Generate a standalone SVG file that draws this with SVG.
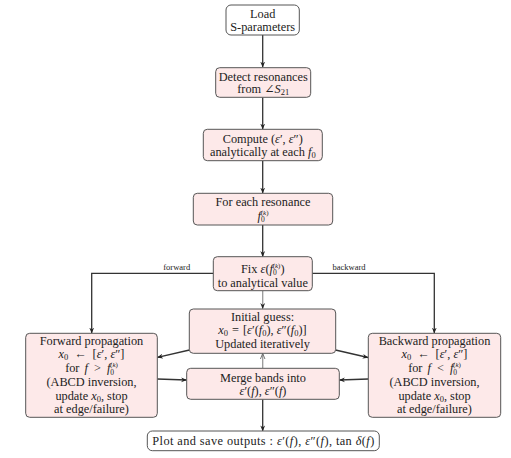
<svg xmlns="http://www.w3.org/2000/svg" width="511" height="458" viewBox="0 0 511 458">
<defs>
<marker id="ah" viewBox="0 0 10 10" refX="9" refY="5" markerWidth="6" markerHeight="6" markerUnits="userSpaceOnUse" orient="auto">
<path d="M0,1 L10,5 L0,9 L3,5 Z" fill="#222"/>
</marker>
<marker id="ahg" viewBox="0 0 10 10" refX="9" refY="5" markerWidth="6" markerHeight="6" markerUnits="userSpaceOnUse" orient="auto">
<path d="M0,1 L10,5 L0,9" fill="none" stroke="#666" stroke-width="1.5"/>
</marker>
<style>
.box{fill:#fde9e9;stroke:#555;stroke-width:1}
.wbox{fill:#fff;stroke:#555;stroke-width:1}
text{font-family:"Liberation Serif","DejaVu Serif",serif;font-size:12.3px;fill:#222;text-anchor:middle}
.lbl{font-size:8.5px}
.i{font-style:italic}
.sm{font-size:8.5px}
.sb{font-size:7.5px}
.sp{font-size:7px}
.c{fill:none;stroke:#333;stroke-width:1.3}
.g{fill:none;stroke:#999;stroke-width:1.3}
</style>
</defs>
<g id="connectors">
<path class="c" d="M262.7,35 V67" marker-end="url(#ah)"/>
<path class="c" d="M262.7,97.5 V129" marker-end="url(#ah)"/>
<path class="c" d="M262.7,161 V193" marker-end="url(#ah)"/>
<path class="c" d="M262.7,225 V256.5" marker-end="url(#ah)"/>
<path class="c" d="M213.3,273.3 H91.7 V333" marker-end="url(#ah)"/>
<path class="c" d="M312.3,273.3 H434.3 V333" marker-end="url(#ah)"/>
<path class="g" d="M262.7,291 V308.5" marker-end="url(#ah)"/>
<path class="g" d="M262.7,368 V354" marker-end="url(#ahg)"/>
<path class="c" d="M189.5,350 L157.5,357.3" marker-end="url(#ah)"/>
<path class="c" d="M335.5,350 L368,357.5" marker-end="url(#ah)"/>
<path class="c" d="M157.3,379 L186.5,380" marker-end="url(#ah)"/>
<path class="c" d="M368.3,379 L339.5,380" marker-end="url(#ah)"/>
<path class="c" d="M262.7,399.5 V430.8" marker-end="url(#ah)"/>
<text class="lbl" x="176.7" y="269.5">forward</text>
<text class="lbl" x="349" y="269.5">backward</text>
</g>
<g id="load">
<rect class="wbox" x="226" y="5" width="73.3" height="30" rx="5"/>
<text x="262.7" y="17.5">Load</text>
<text x="262.7" y="30.5">S-parameters</text>
</g>
<g id="detect">
<rect class="box" x="215.7" y="67.7" width="95" height="29.6" rx="4"/>
<text x="263.2" y="80.5">Detect resonances</text>
<text x="263.2" y="93">from ∠<tspan class="i">S</tspan><tspan class="sm" dy="2">21</tspan></text>
</g>
<g id="compute">
<rect class="box" x="203.3" y="129.3" width="119" height="31.4" rx="4"/>
<text x="262.8" y="142.5">Compute (<tspan class="i">ε</tspan>′, <tspan class="i">ε</tspan>″)</text>
<text x="262.8" y="155.5">analytically at each <tspan class="i">f</tspan><tspan class="sm" dy="2">0</tspan></text>
</g>
<g id="foreach">
<rect class="box" x="193.3" y="193.3" width="139.4" height="31.7" rx="4"/>
<text x="263" y="205.5">For each resonance</text>
<text x="263" y="219.5"><tspan class="i">f</tspan><tspan class="sb" dy="2.5">0</tspan><tspan class="sp" dx="-4" dy="-7.5">(<tspan class="i">k</tspan>)</tspan></text>
</g>
<g id="fix">
<rect class="box" x="213.3" y="256.7" width="99" height="34" rx="4"/>
<text x="262.8" y="272.5">Fix <tspan class="i">ε</tspan>(<tspan class="i">f</tspan><tspan class="sb" dy="2.5">0</tspan><tspan class="sp" dx="-4" dy="-7.5">(<tspan class="i">k</tspan>)</tspan><tspan dy="5">)</tspan></text>
<text x="262.8" y="287">to analytical value</text>
</g>
<g id="initial">
<rect class="box" x="189.3" y="309" width="146.4" height="44.3" rx="4"/>
<text x="262.5" y="321">Initial guess:</text>
<text x="262.5" y="334"><tspan class="i">x</tspan><tspan class="sm" dy="2">0</tspan><tspan dy="-2" dx="4">=</tspan><tspan dx="4">[</tspan><tspan class="i">ε</tspan>′(<tspan class="i">f</tspan><tspan class="sm" dy="2">0</tspan><tspan dy="-2">), </tspan><tspan class="i">ε</tspan>″(<tspan class="i">f</tspan><tspan class="sm" dy="2">0</tspan><tspan dy="-2">)]</tspan></text>
<text x="262.5" y="348.3">Updated iteratively</text>
</g>
<g id="forward">
<rect class="box" x="25.7" y="333.3" width="131.6" height="84" rx="4"/>
<text x="91.5" y="345">Forward propagation</text>
<text x="91.5" y="358"><tspan class="i">x</tspan><tspan class="sm" dy="2">0</tspan><tspan dy="-2" dx="6">←</tspan><tspan dx="6">[</tspan><tspan class="i">ε</tspan>′, <tspan class="i">ε</tspan>″]</text>
<text x="91.5" y="372"><tspan>for </tspan><tspan class="i" dx="2">f</tspan><tspan dx="6">&gt;</tspan><tspan class="i" dx="6">f</tspan><tspan class="sb" dy="2.5">0</tspan><tspan class="sp" dx="-4" dy="-7.5">(<tspan class="i">k</tspan>)</tspan></text>
<text x="91.5" y="386">(ABCD inversion,</text>
<text x="91.5" y="399.5">update <tspan class="i">x</tspan><tspan class="sm" dy="2">0</tspan><tspan dy="-2">, stop</tspan></text>
<text x="91.5" y="413">at edge/failure)</text>
</g>
<g id="backward">
<rect class="box" x="368.3" y="333.3" width="132.4" height="84" rx="4"/>
<text x="434.5" y="345">Backward propagation</text>
<text x="434.5" y="358"><tspan class="i">x</tspan><tspan class="sm" dy="2">0</tspan><tspan dy="-2" dx="6">←</tspan><tspan dx="6">[</tspan><tspan class="i">ε</tspan>′, <tspan class="i">ε</tspan>″]</text>
<text x="434.5" y="372"><tspan>for </tspan><tspan class="i" dx="2">f</tspan><tspan dx="6">&lt;</tspan><tspan class="i" dx="6">f</tspan><tspan class="sb" dy="2.5">0</tspan><tspan class="sp" dx="-4" dy="-7.5">(<tspan class="i">k</tspan>)</tspan></text>
<text x="434.5" y="386">(ABCD inversion,</text>
<text x="434.5" y="399.5">update <tspan class="i">x</tspan><tspan class="sm" dy="2">0</tspan><tspan dy="-2">, stop</tspan></text>
<text x="434.5" y="413">at edge/failure)</text>
</g>
<g id="merge">
<rect class="box" x="186.7" y="368.3" width="152.6" height="31" rx="4"/>
<text x="263" y="381.5">Merge bands into</text>
<text x="263" y="394.5"><tspan class="i">ε</tspan>′(<tspan class="i">f</tspan>), <tspan class="i">ε</tspan>″(<tspan class="i">f</tspan>)</text>
</g>
<g id="plot">
<rect class="wbox" x="147.3" y="431" width="232" height="19.7" rx="5"/>
<text x="263.3" y="444.5" textLength="222" lengthAdjust="spacing">Plot and save outputs : <tspan class="i">ε</tspan>′(<tspan class="i">f</tspan>), <tspan class="i">ε</tspan>″(<tspan class="i">f</tspan>), tan <tspan class="i">δ</tspan>(<tspan class="i">f</tspan>)</text>
</g>
</svg>
